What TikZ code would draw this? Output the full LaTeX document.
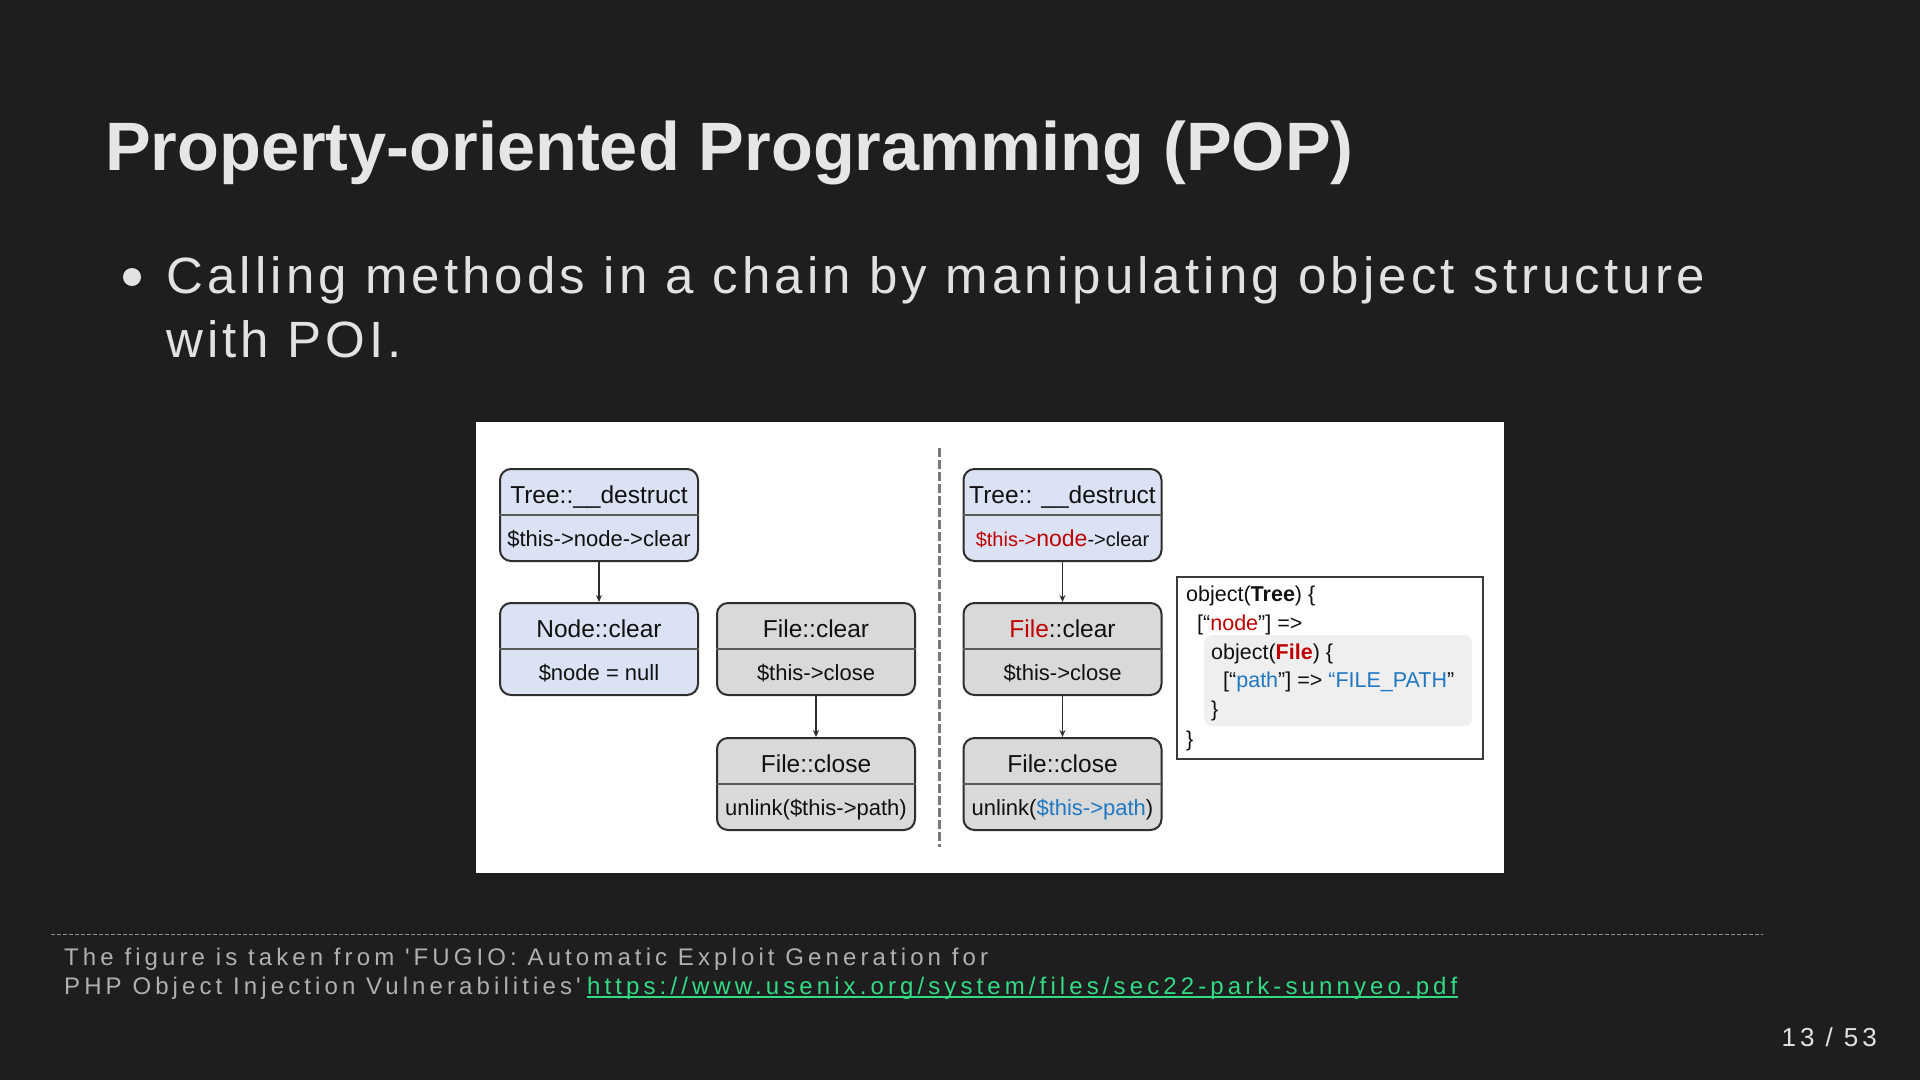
\documentclass[tikz,border=0pt]{standalone}
\usepackage{fontspec}
\setmainfont{Liberation Sans}
\newfontfamily\titlefont{Liberation Sans}
\newfontfamily\bodyfont[LetterSpace=8.1]{Liberation Sans}
\newfontfamily\footfont[LetterSpace=17.1,Ligatures=TeXOff]{Liberation Sans}
\newfontfamily\pagefont[LetterSpace=15]{Liberation Sans}
\usetikzlibrary{arrows.meta,calc}
\definecolor{bg}{HTML}{1E1E1E}
\definecolor{titlec}{HTML}{E6E6E6}
\definecolor{bodyc}{HTML}{E2E2E2}
\definecolor{footc}{HTML}{B0B0B0}
\definecolor{linkc}{HTML}{33DB84}
\definecolor{footline}{HTML}{8C8C8C}
\definecolor{boxblue}{HTML}{DAE2F4}
\definecolor{boxgray}{HTML}{D9D9D9}
\definecolor{boxborder}{HTML}{2E2E2E}
\definecolor{divc}{HTML}{5A5A5A}
\definecolor{dashc}{HTML}{7A7A7A}
\definecolor{redc}{HTML}{C00000}
\definecolor{bluec}{HTML}{1F78C1}
\definecolor{codefill}{HTML}{EFEFEF}
\definecolor{codeborder}{HTML}{3A3A3A}
\definecolor{txtc}{HTML}{111111}
\tikzset{
  cbox/.style={draw=boxborder, line width=2pt, rounded corners=11pt, minimum width=198pt, minimum height=92pt, inner sep=0pt},
  divider/.style={draw=divc, line width=1.5pt},
  ttl/.style={anchor=base, inner sep=0pt, text=txtc, font=\fontsize{24.5}{24.5}\selectfont},
  bodytxt/.style={anchor=base, inner sep=0pt, text=txtc, font=\fontsize{22}{22}\selectfont},
  conn/.style={draw=boxborder, line width=1.5pt, -{Stealth[length=7pt,width=6pt]}},
  codetxt/.style={anchor=base west, inner sep=0pt, text=txtc, font=\fontsize{21.5}{21.5}\selectfont},
  foottxt/.style={anchor=base west, inner sep=0pt, text=footc, font=\footfont\fontsize{24}{24}\selectfont},
}
\newcommand\classbox[6]{%
  \node[cbox, fill=#4] (#1) at (#2,#3) {};
  \draw[divider] (#1.west) -- (#1.east);
  \node[ttl] (#1-top) at ($(#2,#3)+(0,-12)$) {#5};
  \node[bodytxt] (#1-bot) at ($(#2,#3)+(0,31)$) {#6};
}
\begin{document}
\begin{tikzpicture}[x=1pt,y=-1pt]
\fill[bg] (0,0) rectangle (1920,1080);
\useasboundingbox (0,0) rectangle (1920,1080);
% title
\node[anchor=base west, inner sep=0pt, text=titlec, font=\titlefont\bfseries\fontsize{68.5}{70}\selectfont] (title) at (105,170) {Property-oriented Programming (POP)};
% bullet
\node[circle, fill=bodyc, minimum size=18pt, inner sep=0pt] (bullet) at (132,277) {};
\node[anchor=base west, inner sep=0pt, text=bodyc, font=\bodyfont\fontsize{51}{51}\selectfont] (line1) at (166,293) {Calling methods in a chain by manipulating object structure};
\node[anchor=base west, inner sep=0pt, text=bodyc, font=\bodyfont\fontsize{51}{51}\selectfont] (line2) at (166,357) {with POI.};
% panel
\node[fill=white, minimum width=1028pt, minimum height=451pt, anchor=north west, inner sep=0pt] (panel) at (476,422) {};
% left chain
\classbox{t1}{599}{515}{boxblue}{Tree::\_\_destruct}{\$this->node->clear}
\classbox{n1}{599}{649}{boxblue}{Node::clear}{\$node = null}
\classbox{fc1}{816}{649}{boxgray}{File::clear}{\$this->close}
\classbox{fl1}{816}{784}{boxgray}{File::close}{unlink(\$this->path)}
\draw[conn] (t1.south) -- (n1.north);
\draw[conn] (fc1.south) -- (fl1.north);
% separator
\coordinate (dtop) at (939,448);
\coordinate (dbot) at (939,847);
\draw[draw=dashc, line width=3pt, dash pattern=on 9pt off 3pt] (dtop) -- (dbot);
% right chain
\classbox{t2}{1062.5}{515}{boxblue}{Tree:: \_\_destruct}{{\fontsize{20}{20}\selectfont\color{redc}\$this->}{\fontsize{23}{23}\selectfont\color{redc}node}{\fontsize{20}{20}\selectfont->clear}}
\classbox{fc2}{1062.5}{649}{boxgray}{\textcolor{redc}{File}::clear}{\$this->close}
\classbox{fl2}{1062.5}{784}{boxgray}{File::close}{unlink(\textcolor{bluec}{\$this->path})}
\draw[conn] (t2.south) -- (fc2.north);
\draw[conn] (fc2.south) -- (fl2.north);
% code box
\node[draw=codeborder, line width=1.5pt, fill=white, minimum width=306pt, minimum height=182pt, anchor=north west, inner sep=0pt] (code) at (1176,576) {};
\node[fill=codefill, rounded corners=8pt, minimum width=268pt, minimum height=91pt, anchor=north west, inner sep=0pt] (inner) at (1204,635) {};
\node[codetxt] (c1) at (1186,601) {object(\textbf{Tree}) \{};
\node[codetxt] (c2) at (1197,630) {[“\textcolor{redc}{node}”] =>};
\node[codetxt] (c3) at (1211,659) {object(\textcolor{redc}{\textbf{File}}) \{};
\node[codetxt] (c4) at (1223,687) {[“\textcolor{bluec}{path}”] => \textcolor{bluec}{“FILE\_PATH}”};
\node[codetxt] (c5) at (1211,716) {\}};
\node[codetxt] (c6) at (1186,746) {\}};
% footer
\coordinate (fla) at (51,934);
\coordinate (flb) at (1763,934);
\draw[draw=footline, line width=1pt, dash pattern=on 4pt off 2pt] (fla) -- (flb);
\node[foottxt] (f1) at (64,965) {The figure is taken from 'FUGIO: Automatic Exploit Generation for};
\node[foottxt] (f2) at (64,994) {PHP Object Injection Vulnerabilities'};
\node[foottxt, text=linkc] (link) at (587,994) {https://www.usenix.org/system/files/sec22-park-sunnyeo.pdf};
\draw[draw=linkc, line width=1.5pt] ([yshift=-3pt]link.base west) -- ([yshift=-3pt]link.base east);
\node[anchor=base east, inner sep=0pt, text=bodyc, font=\pagefont\fontsize{26}{26}\selectfont] (page) at (1877,1046) {13 / 53};
\end{tikzpicture}
\end{document}
